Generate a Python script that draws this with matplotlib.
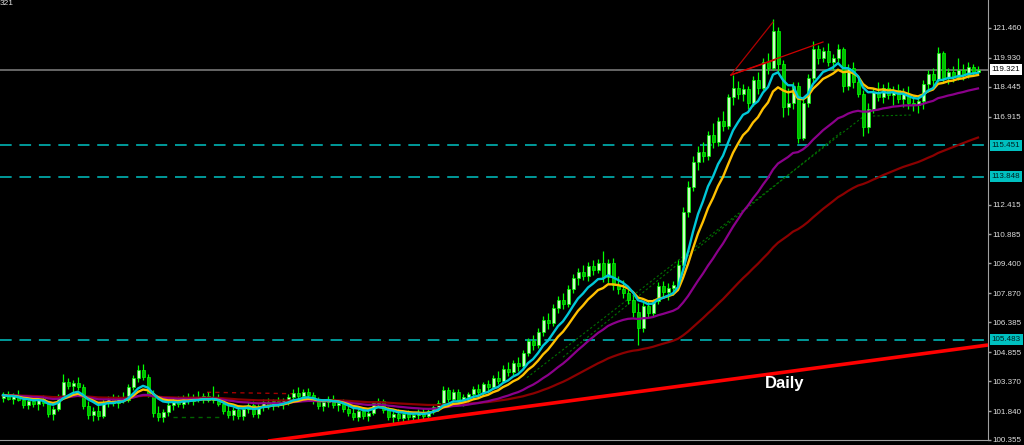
import matplotlib
matplotlib.use("Agg")
import matplotlib.pyplot as plt
import numpy as np
import pandas as pd

# ---------------- data (daily candles) ----------------
opens = [102.50,102.65,102.45,102.60,102.40,102.15,102.35,102.20,102.45,102.25,
         101.70,101.95,102.60,103.30,103.10,103.25,103.05,102.10,101.65,101.85,
         101.60,102.30,102.45,102.25,102.50,102.40,103.05,103.55,103.95,103.60,
         102.70,101.75,101.55,101.80,102.15,102.35,102.20,102.50,102.35,102.55,
         102.45,102.60,102.40,102.55,102.20,101.85,101.65,101.90,101.60,101.95,
         102.15,101.70,102.05,102.30,102.15,102.35,102.20,102.40,102.55,102.75,
         102.60,102.80,102.65,102.35,102.10,102.30,102.45,102.15,102.25,101.95,
         101.75,101.55,101.85,101.60,101.75,102.25,102.35,101.90,101.55,101.70,
         101.50,101.70,101.55,101.65,101.75,101.60,101.85,102.05,102.25,102.90,
         102.45,102.80,102.35,102.55,102.70,102.95,102.80,103.20,103.05,103.55,
         103.40,104.00,103.85,104.30,104.15,104.80,105.45,105.20,105.90,106.50,
         106.35,107.10,107.50,107.30,108.10,108.65,108.95,108.75,109.25,109.05,
         109.40,108.70,109.40,108.30,108.10,107.90,107.50,106.90,106.10,107.20,
         106.85,107.45,108.25,107.95,108.15,108.30,109.30,112.05,113.30,114.60,
         115.10,114.90,116.00,115.60,116.70,116.45,117.90,118.40,118.10,118.35,
         117.60,118.80,118.40,119.70,119.40,121.30,119.60,117.40,117.60,118.50,
         115.80,117.60,118.90,120.40,119.90,120.30,119.70,119.90,120.40,118.50,
         119.40,118.70,118.10,116.40,117.30,118.20,117.90,118.40,118.00,118.30,
         117.80,118.10,117.60,117.50,117.70,118.60,119.10,118.80,120.20,118.90,
         119.20,118.95,119.30,119.05,119.45,119.20]
highs = [102.80,102.85,102.75,102.90,102.55,102.50,102.55,102.60,102.65,102.35,
         102.10,102.70,103.75,103.55,103.45,103.60,103.20,102.35,102.05,102.15,
         102.45,102.60,102.70,102.65,102.80,103.20,103.70,104.20,104.25,103.75,
         102.90,102.10,101.95,102.30,102.55,102.60,102.65,102.75,102.70,102.85,
         102.75,102.80,103.10,102.70,102.35,102.15,102.05,102.10,102.05,102.30,
         102.35,102.20,102.45,102.50,102.45,102.55,102.50,102.70,102.95,103.05,
         102.95,103.00,102.80,102.55,102.45,102.60,102.65,102.40,102.45,102.20,
         102.05,101.95,102.05,101.90,102.35,102.50,102.45,102.05,101.85,101.95,
         101.85,101.90,101.80,101.95,102.00,101.95,102.20,102.40,103.10,103.05,
         102.95,102.95,102.70,102.80,103.10,103.20,103.35,103.45,103.70,103.90,
         104.20,104.35,104.45,104.60,104.95,105.60,105.75,106.10,106.70,106.85,
         107.30,107.75,107.90,108.30,108.85,109.15,109.30,109.45,109.55,109.65,
         110.05,109.60,109.70,108.75,108.55,108.20,107.80,107.35,107.40,107.55,
         107.60,108.45,108.50,108.40,108.50,109.55,112.30,113.60,114.90,115.40,
         115.60,116.20,116.60,116.90,117.20,118.10,119.05,118.75,118.60,118.50,
         119.00,119.20,119.90,120.20,121.90,121.50,119.80,118.40,118.70,118.70,
         117.80,119.10,120.80,120.60,120.50,120.70,120.10,120.65,120.50,119.60,
         119.70,119.00,118.30,117.60,118.40,118.70,118.60,118.70,118.50,118.60,
         118.40,118.50,118.00,117.90,118.80,119.30,119.40,120.50,120.30,119.40,
         119.50,119.90,119.60,119.70,119.60,119.50]
lows = [102.30,102.40,102.20,102.35,102.00,101.95,102.05,101.90,102.10,101.55,
        101.40,101.85,102.50,102.95,102.80,102.90,101.95,101.45,101.35,101.40,
        101.50,102.05,102.10,102.00,102.25,102.30,102.90,103.35,103.45,102.55,
        101.55,101.35,101.30,101.60,101.90,102.05,102.00,102.20,102.15,102.30,
        102.25,102.30,102.25,102.10,101.70,101.50,101.40,101.45,101.40,101.75,
        101.55,101.50,101.85,101.95,101.90,102.05,101.95,102.15,102.35,102.45,
        102.40,102.50,102.20,101.95,101.85,102.05,102.00,101.85,101.80,101.60,
        101.40,101.35,101.45,101.35,101.65,102.05,101.75,101.40,101.10,101.35,
        101.30,101.40,101.30,101.40,101.45,101.45,101.70,101.85,102.10,102.30,
        102.30,102.20,102.10,102.30,102.45,102.60,102.65,102.85,102.95,103.20,
        103.30,103.65,103.70,103.90,104.00,104.65,104.95,105.05,105.70,106.05,
        106.20,106.85,107.05,107.15,107.90,108.30,108.55,108.50,108.80,108.90,
        108.45,108.40,108.05,107.85,107.65,107.30,106.65,105.20,105.90,106.60,
        106.70,107.30,107.70,107.55,107.80,108.15,109.10,111.80,113.10,114.20,
        114.60,114.70,115.30,115.40,116.20,116.30,117.50,117.80,117.70,117.30,
        117.45,118.10,118.30,119.10,119.30,119.20,116.90,117.00,117.30,115.55,
        115.70,117.40,118.70,119.60,119.70,119.50,119.30,119.60,118.20,118.30,
        118.40,117.90,115.90,116.10,117.10,117.70,117.60,117.80,117.50,117.60,
        117.40,117.30,117.20,117.10,117.30,118.20,118.50,118.70,118.70,118.60,
        118.70,118.80,118.80,118.90,119.00,119.10]
closes = [102.65,102.45,102.60,102.40,102.15,102.35,102.20,102.45,102.25,101.70,
          101.95,102.60,103.30,103.10,103.25,103.05,102.10,101.65,101.85,101.60,
          102.30,102.45,102.25,102.50,102.40,103.05,103.55,103.95,103.60,102.70,
          101.75,101.55,101.80,102.15,102.35,102.20,102.50,102.35,102.55,102.45,
          102.60,102.40,102.55,102.20,101.85,101.65,101.90,101.60,101.95,102.15,
          101.70,102.05,102.30,102.15,102.35,102.20,102.40,102.55,102.75,102.60,
          102.80,102.65,102.35,102.10,102.30,102.45,102.15,102.25,101.95,101.75,
          101.55,101.85,101.60,101.75,102.25,102.35,101.90,101.55,101.70,101.50,
          101.70,101.55,101.65,101.75,101.60,101.85,102.05,102.25,102.90,102.45,
          102.80,102.35,102.55,102.70,102.95,102.80,103.20,103.05,103.55,103.40,
          104.00,103.85,104.30,104.15,104.80,105.45,105.20,105.90,106.50,106.35,
          107.10,107.50,107.30,108.10,108.65,108.95,108.75,109.25,109.05,109.40,
          108.70,109.40,108.30,108.10,107.90,107.50,106.90,106.10,107.20,106.85,
          107.45,108.25,107.95,108.15,108.30,109.30,112.05,113.30,114.60,115.10,
          114.90,116.00,115.60,116.70,116.45,117.90,118.40,118.10,118.35,117.60,
          118.80,118.40,119.70,119.40,121.30,119.60,117.40,117.60,118.50,115.80,
          117.60,118.90,120.40,119.90,120.30,119.70,119.90,120.40,118.50,119.40,
          118.70,118.10,116.40,117.30,118.20,117.90,118.40,118.00,118.30,117.80,
          118.10,117.60,117.50,117.70,118.60,119.10,118.80,120.20,118.90,119.20,
          118.95,119.30,119.05,119.45,119.20,119.32]

price_ticks = [121.460, 119.930, 118.445, 116.915, 112.415, 110.885, 109.400,
               107.870, 106.385, 104.855, 103.370, 101.840, 100.355]
level_lines = [115.451, 113.848, 105.483]
last_price = 119.321

trend_x = [53.0, 197.0]
trend_y = [100.30, 105.22]

fan_x1 = [145.6, 154.0]
fan_y1 = [119.05, 121.76]
fan_x2 = [145.6, 164.0]
fan_y2 = [119.05, 120.74]
fan_x3 = [145.6, 154.4]
fan_y3 = [119.05, 119.82]

red_dot_x = [40.8, 59.4]
red_dot_y = [102.80, 102.72]
green_dot_x = [34.0, 44.0]
green_dot_y = [101.53, 101.53]
green_diag1_x = [104.8, 174.0]
green_diag1_y = [103.55, 117.30]
green_diag2_x = [112.0, 168.0]
green_diag2_y = [104.60, 116.20]
green_flat_x = [174.0, 182.0]
green_flat_y = [116.95, 117.00]

# ---------------- figure ----------------
W, H = 1024, 445
fig = plt.figure(figsize=(W / 100, H / 100), dpi=100, facecolor="black")
ax = fig.add_axes([0, 5 / H, 988 / W, 440 / H], facecolor="black")
ax.set_xlim(-0.6, 197.0)
ax.set_ylim(100.355, 122.89)

o = np.array(opens); h = np.array(highs); l = np.array(lows); c = np.array(closes)
idx = np.arange(len(c))

# moving averages computed from closes
s = pd.Series(c)
ma_fast = s.ewm(span=8, adjust=False).mean()
ma_mid = s.ewm(span=12, adjust=False).mean()
ma_slow = s.ewm(span=34, adjust=False).mean()
ma_long = s.ewm(span=75, adjust=False).mean()

# horizontal levels
for lv in level_lines:
    ax.axhline(lv, color="#009a9a", lw=1.4, ls=(0, (6, 4)), zorder=1)
ax.axhline(last_price, color="#787878", lw=1.2, zorder=1)

# dotted objects
ax.plot(red_dot_x, red_dot_y, color="#a00000", lw=1.0, ls=(0, (3, 3)), zorder=2)
ax.plot(green_dot_x, green_dot_y, color="#006400", lw=1.0, ls=(0, (3, 3)), zorder=2)
ax.plot(green_diag1_x, green_diag1_y, color="#007000", lw=0.8, ls=(0, (2, 2)), zorder=2)
ax.plot(green_diag2_x, green_diag2_y, color="#007000", lw=0.8, ls=(0, (2, 2)), zorder=2)
ax.plot(green_flat_x, green_flat_y, color="#007000", lw=0.8, ls=(0, (2, 2)), zorder=2)

# candles
up = c >= o
ax.vlines(idx, l, h, color="#00ff00", lw=0.9, zorder=3)
body_lo = np.minimum(o, c)
body_h = np.maximum(np.abs(c - o), 0.04)
ax.bar(idx[up], body_h[up], bottom=body_lo[up], width=0.6,
       color="#c8ffc0", edgecolor="#00ff00", linewidth=0.5, zorder=4)
ax.bar(idx[~up], body_h[~up], bottom=body_lo[~up], width=0.6,
       color="#00c000", edgecolor="#00ff00", linewidth=0.5, zorder=4)

# moving averages
ax.plot(idx, ma_long, color="#8b0000", lw=1.6, zorder=5)
ax.plot(idx, ma_slow, color="#8b008b", lw=1.6, zorder=5)
ax.plot(idx, ma_mid, color="#ffc000", lw=1.7, zorder=6)
ax.plot(idx, ma_fast, color="#00c8d8", lw=1.7, zorder=7)

# fan lines
ax.plot(fan_x1, fan_y1, color="#b00000", lw=0.9, zorder=8)
ax.plot(fan_x2, fan_y2, color="#d00000", lw=0.9, zorder=8)
ax.plot(fan_x3, fan_y3, color="#d00000", lw=0.9, zorder=8)

# trendline
ax.plot(trend_x, trend_y, color="#ff0000", lw=2.6, zorder=9, solid_capstyle="butt")
ax.text(156.4, 103.25, "Daily", color="white", fontsize=12, fontweight="bold",
        family="Liberation Sans", ha="center", va="center", zorder=10)

# axes styling
for sp in ["top", "left"]:
    ax.spines[sp].set_visible(False)
ax.spines["right"].set_color("#a0a0a0")
ax.spines["bottom"].set_color("#a0a0a0")
ax.set_xticks([])
ax.yaxis.tick_right()
ax.set_yticks(price_ticks)
ax.set_yticklabels([f"{v:.3f}" for v in price_ticks])
ax.tick_params(axis="y", colors="#a0a0a0", labelcolor="#e0e0e0", length=2.2,
               width=1, pad=1.2, labelsize=5.8)
for t in ax.get_yticklabels():
    t.set_family("Liberation Sans")

# price label boxes
for lv in level_lines:
    ax.annotate(f"{lv:.3f}", xy=(1.0, lv), xycoords=("axes fraction", "data"),
                xytext=(2.6, 0), textcoords="offset points", fontsize=5.8,
                family="Liberation Sans", color="#002020", va="center", ha="left",
                bbox=dict(boxstyle="square,pad=0.25", fc="#00c0c0", ec="none"),
                annotation_clip=False, zorder=20)
ax.annotate(f"{last_price:.3f}", xy=(1.0, last_price), xycoords=("axes fraction", "data"),
            xytext=(2.6, 0), textcoords="offset points", fontsize=5.8,
            family="Liberation Sans", color="black", va="center", ha="left",
            bbox=dict(boxstyle="square,pad=0.25", fc="white", ec="none"),
            annotation_clip=False, zorder=20)

fig.text(0.0, 1.0, "321", color="#e0e0e0", fontsize=6, family="Liberation Sans",
         ha="left", va="top")

fig.savefig("out.png", dpi=100, facecolor="black")
